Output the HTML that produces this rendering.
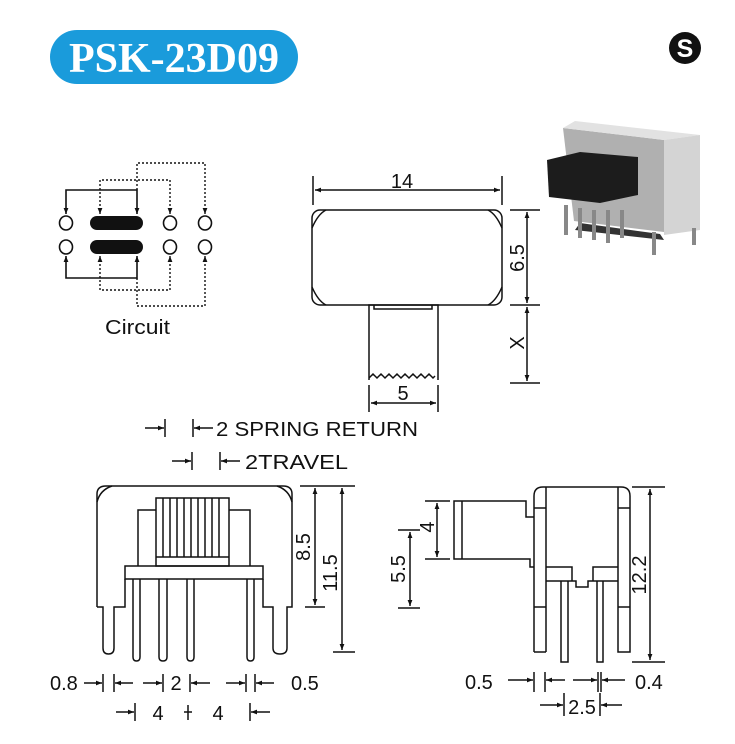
<!DOCTYPE html>
<html><head><meta charset="utf-8"><style>
body{margin:0;background:#fff;width:735px;height:744px;overflow:hidden}
svg{display:block}
text{font-family:"Liberation Sans",Arial,sans-serif;fill:#111}
</style></head><body>
<svg width="735" height="744" viewBox="0 0 735 744" xmlns="http://www.w3.org/2000/svg">
<defs>
<marker id="a" viewBox="0 0 10 10" refX="10" refY="5" markerWidth="7" markerHeight="6" orient="auto-start-reverse" markerUnits="userSpaceOnUse"><path d="M0,1 L10,5 L0,9 z" fill="#111"/></marker>
</defs>
<!-- title -->
<rect x="50" y="30" width="248" height="54" rx="27" fill="#1a9bdb"/>
<text x="174" y="72" text-anchor="middle" style="font-family:'Liberation Serif',serif;font-weight:bold;font-size:42px;fill:#fff">PSK-23D09</text>
<circle cx="685" cy="48" r="16" fill="#111"/>
<text x="685" y="57" text-anchor="middle" style="font-weight:bold;font-size:25px;fill:#fff">S</text>

<!-- circuit -->
<g stroke="#111" stroke-width="1.6" fill="#fff">
<ellipse cx="66" cy="223" rx="6.5" ry="7"/><ellipse cx="66" cy="247" rx="6.5" ry="7"/>
<ellipse cx="170" cy="223" rx="6.5" ry="7"/><ellipse cx="170" cy="247" rx="6.5" ry="7"/>
<ellipse cx="205" cy="223" rx="6.5" ry="7"/><ellipse cx="205" cy="247" rx="6.5" ry="7"/>
</g>
<rect x="90" y="216" width="53" height="14" rx="7" fill="#111"/>
<rect x="90" y="240" width="53" height="14" rx="7" fill="#111"/>
<g stroke="#111" stroke-width="1.6" fill="none">
<path d="M66,214 V190 H137 V214" marker-end="url(#a)" marker-start="url(#a)"/>
<path d="M66,256 V278 H137 V256" marker-end="url(#a)" marker-start="url(#a)"/>
</g>
<g stroke="#111" stroke-width="1.4" fill="none" stroke-dasharray="2,2">
<path d="M100,214 V180 H170 V214" marker-end="url(#a)" marker-start="url(#a)"/>
<path d="M137,190 V163 H205 V214" marker-end="url(#a)"/>
<path d="M100,256 V290 H170 V256" marker-end="url(#a)" marker-start="url(#a)"/>
<path d="M137,278 V306 H205 V256" marker-end="url(#a)"/>
</g>
<text x="105" y="334" textLength="65" lengthAdjust="spacingAndGlyphs" style="font-size:20px">Circuit</text>

<!-- top view -->
<g stroke="#111" stroke-width="1.5" fill="none">
<rect x="312" y="210" width="190" height="95" rx="8"/>
<path d="M312,228 Q318,214 326,210 M502,228 Q496,214 488,210 M312,287 Q318,301 326,305 M502,287 Q496,301 488,305"/>
<path d="M369,380 V305 H438 V380"/>
<path d="M374,305 V309 H432 V305"/>
<path d="M369,378 l4,-4 4,4 4,-4 4,4 4,-4 4,4 4,-4 4,4 4,-4 4,4 4,-4 4,4 4,-4 4,4 4,-4 4,4 2,-2"/>
<path d="M313,176 V205 M502,176 V205"/>
<path d="M315,190 H500" marker-end="url(#a)" marker-start="url(#a)"/>
<path d="M369,385 V412 M438,385 V412"/>
<path d="M371,403 H436" marker-end="url(#a)" marker-start="url(#a)"/>
<path d="M510,210 H540 M510,305 H540 M510,383 H540"/>
<path d="M527,212 V303" marker-end="url(#a)" marker-start="url(#a)"/>
<path d="M527,307 V381" marker-end="url(#a)" marker-start="url(#a)"/>
</g>
<text x="402" y="188" text-anchor="middle" style="font-size:20px">14</text>
<text x="403" y="400" text-anchor="middle" style="font-size:20px">5</text>
<text transform="translate(524,258) rotate(-90)" text-anchor="middle" style="font-size:20px">6.5</text>
<text transform="translate(524,343) rotate(-90)" text-anchor="middle" style="font-size:20px">X</text>

<!-- photo -->
<g>
<path d="M563,128 L664,140 L664,232 L574,221 Z" fill="#b0b0b0"/>
<path d="M563,128 L575,121 L700,135 L664,140 Z" fill="#e2e2e2"/>
<path d="M664,140 L700,135 L700,230 L664,235 Z" fill="#d4d4d4"/>
<path d="M547,160 L580,152 L638,157 L638,195 L600,203 L549,197 Z" fill="#1c1c1c"/>
<path d="M580,223 L660,234 L664,240 L575,230 Z" fill="#333"/>
<g stroke="#888" stroke-width="4">
<line x1="566" y1="205" x2="566" y2="235"/><line x1="580" y1="208" x2="580" y2="238"/>
<line x1="594" y1="210" x2="594" y2="240"/><line x1="608" y1="210" x2="608" y2="243"/>
<line x1="622" y1="210" x2="622" y2="238"/>
<line x1="654" y1="232" x2="654" y2="255"/><line x1="694" y1="228" x2="694" y2="245"/>
</g>
</g>

<!-- spring / travel -->
<g stroke="#111" stroke-width="1.5" fill="none">
<path d="M145,428 H164" marker-end="url(#a)"/><path d="M165,419 V437"/>
<path d="M193,419 V437"/><path d="M213,428 H194" marker-end="url(#a)"/>
<path d="M172,461 H191" marker-end="url(#a)"/><path d="M192,452 V470"/>
<path d="M220,452 V470"/><path d="M240,461 H221" marker-end="url(#a)"/>
</g>
<text x="216" y="436" textLength="202" lengthAdjust="spacingAndGlyphs" style="font-size:20px">2 SPRING RETURN</text>
<text x="245" y="469" textLength="103" lengthAdjust="spacingAndGlyphs" style="font-size:20px">2TRAVEL</text>

<!-- front view -->
<g stroke="#111" stroke-width="1.5" fill="none">
<path d="M97,607 V494 Q97,486 106,486 H283 Q292,486 292,494 V607 H287 V648 Q287,654 280,654 Q273,654 273,648 V607 H263 V579"/>
<path d="M97,607 H103 V648 Q103,654 108.5,654 Q114,654 114,648 V607 H125 V579"/>
<path d="M97,502 Q100,490 112,486 M292,502 Q289,490 277,486"/>
<rect x="125" y="566" width="138" height="13"/>
<path d="M138,566 V510 H156 M229,510 H250 V566"/>
<rect x="156" y="498" width="73" height="68"/>
<path d="M156,557 H229"/>
<path d="M163,498 V557 M170,498 V557 M177,498 V557 M184,498 V557 M191,498 V557 M198,498 V557 M205,498 V557 M212,498 V557 M219,498 V557"/>
<path d="M133,579 V657 Q133,661 136.5,661 Q140,661 140,657 V579"/>
<path d="M159,579 V657 Q159,661 163,661 Q167,661 167,657 V579"/>
<path d="M187,579 V657 Q187,661 190.5,661 Q194,661 194,657 V579"/>
<path d="M247,579 V657 Q247,661 250.5,661 Q254,661 254,657 V579"/>
<path d="M300,486 H355 M305,607 H325 M333,652 H355"/>
<path d="M315,488 V605" marker-end="url(#a)" marker-start="url(#a)"/>
<path d="M342,488 V650" marker-end="url(#a)" marker-start="url(#a)"/>
<path d="M84,683 H102" marker-end="url(#a)"/><path d="M103,674 V692"/>
<path d="M114,674 V692"/><path d="M133,683 H115" marker-end="url(#a)"/>
<path d="M143,683 H162" marker-end="url(#a)"/><path d="M163,674 V692"/>
<path d="M190,674 V692"/><path d="M210,683 H191" marker-end="url(#a)"/>
<path d="M226,683 H245" marker-end="url(#a)"/><path d="M246,674 V692"/>
<path d="M255,674 V692"/><path d="M274,683 H256" marker-end="url(#a)"/>
<path d="M116,712 H134" marker-end="url(#a)"/><path d="M135,703 V721"/>
<path d="M188,705 V720"/><path d="M188,712 H184 M188,712 H192"/>
<path d="M250,703 V721"/><path d="M270,712 H251" marker-end="url(#a)"/>
</g>
<text transform="translate(310,547) rotate(-90)" text-anchor="middle" style="font-size:20px">8.5</text>
<text transform="translate(337,573) rotate(-90)" text-anchor="middle" style="font-size:20px">11.5</text>
<text x="50" y="690" style="font-size:20px">0.8</text>
<text x="176" y="690" text-anchor="middle" style="font-size:20px">2</text>
<text x="291" y="690" style="font-size:20px">0.5</text>
<text x="158" y="720" text-anchor="middle" style="font-size:20px">4</text>
<text x="218" y="720" text-anchor="middle" style="font-size:20px">4</text>

<!-- side view -->
<g stroke="#111" stroke-width="1.5" fill="none">
<path d="M534,652 V496 Q534,487 543,487 H621 Q630,487 630,496 V652 H618 V507 M546,652 V487 M534,652 H546 M618,652 V487"/>
<path d="M534,508 H546 M534,607 H546 M618,508 H630 M618,607 H630"/>
<path d="M546,567 H572 V581 H546 M572,581 H576 V587 H588 V581 H593 V567 H618 M593,581 H618"/>
<path d="M561,581 V662 H568 V581 M597,581 V662 H603 V581"/>
<path d="M534,517 H526 V501 H454 V559 H530 V567 H534 M462,501 V559"/>
<path d="M425,501 H450 M425,559 H450"/>
<path d="M437,503 V557" marker-end="url(#a)" marker-start="url(#a)"/>
<path d="M398,530 H420 M398,608 H420"/>
<path d="M410,532 V606" marker-end="url(#a)" marker-start="url(#a)"/>
<path d="M632,487 H665 M632,662 H665"/>
<path d="M650,489 V660" marker-end="url(#a)" marker-start="url(#a)"/>
<path d="M508,680 H533" marker-end="url(#a)"/><path d="M534,672 V692"/>
<path d="M545,672 V692"/><path d="M565,680 H546" marker-end="url(#a)"/>
<path d="M573,680 H597" marker-end="url(#a)"/><path d="M598,672 V692 M601,672 V692"/>
<path d="M625,680 H602" marker-end="url(#a)"/>
<path d="M540,705 H563" marker-end="url(#a)"/><path d="M564,693 V716"/>
<path d="M600,693 V716"/><path d="M622,705 H601" marker-end="url(#a)"/>
</g>
<text transform="translate(434,527) rotate(-90)" text-anchor="middle" style="font-size:20px">4</text>
<text transform="translate(405,569) rotate(-90)" text-anchor="middle" style="font-size:20px">5.5</text>
<text transform="translate(646,575) rotate(-90)" text-anchor="middle" style="font-size:20px">12.2</text>
<text x="465" y="689" style="font-size:20px">0.5</text>
<text x="635" y="689" style="font-size:20px">0.4</text>
<text x="582" y="714" text-anchor="middle" style="font-size:20px">2.5</text>
</svg>
</body></html>
